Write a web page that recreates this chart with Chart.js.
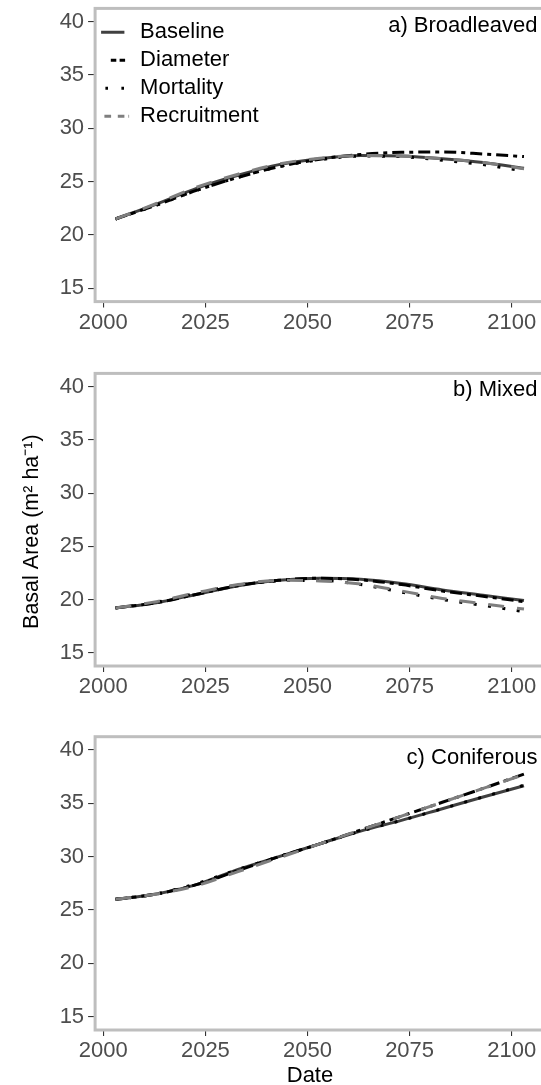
<!DOCTYPE html>
<html><head><meta charset="utf-8">
<script src="https://cdn.jsdelivr.net/npm/chart.js@4.4.0/dist/chart.umd.min.js"></script>
<style>
html,body{margin:0;padding:0;background:#fff;overflow:hidden;width:541px;height:1085px;position:relative;}
canvas{position:absolute;left:0;}
#date{position:absolute;left:250px;width:120px;text-align:center;top:1063px;font:22px "Liberation Sans",Arial,sans-serif;color:#000;line-height:24px;}
</style></head><body>
<canvas id="ca" width="560" height="345" style="top:0px;width:560px;height:345px"></canvas>
<canvas id="cb" width="560" height="360" style="top:345px;width:560px;height:360px"></canvas>
<canvas id="cc" width="560" height="380" style="top:705px;width:560px;height:380px"></canvas>
<div id="date">Date</div>
<script>
// ---- data ----
const years = [2003, 2013, 2023, 2033, 2043, 2053, 2063, 2073, 2083, 2093, 2103];
const xTicks = [2000, 2025, 2050, 2075, 2100];
const yTicks = [15, 20, 25, 30, 35, 40];
const seriesNames = ['Baseline', 'Diameter', 'Mortality', 'Recruitment'];
const panelLabels = ['a) Broadleaved', 'b) Mixed', 'c) Coniferous'];
const yAxisTitle = 'Basal Area (m\u00B2 ha\u207B\u00B9)    ';

const broadleavedBaseline    = [21.5, 22.9, 24.4, 25.6, 26.6, 27.15, 27.45, 27.4, 27.15, 26.8, 26.25];
const broadleavedDiameter    = [21.5, 22.8, 24.2, 25.4, 26.4, 27.1, 27.55, 27.75, 27.78, 27.6, 27.35];
const broadleavedMortality   = [21.5, 22.8, 24.2, 25.4, 26.4, 27.05, 27.4, 27.35, 27.0, 26.6, 26.0];
const broadleavedRecruitment = [21.5, 22.95, 24.5, 25.7, 26.65, 27.2, 27.45, 27.4, 27.15, 26.8, 26.2];

const mixedBaseline    = [19.2, 19.7, 20.5, 21.3, 21.8, 22.0, 21.9, 21.5, 20.9, 20.4, 19.9];
const mixedDiameter    = [19.2, 19.7, 20.5, 21.3, 21.8, 22.0, 21.85, 21.4, 20.8, 20.3, 19.8];
const mixedMortality   = [19.2, 19.75, 20.6, 21.35, 21.75, 21.8, 21.4, 20.7, 20.0, 19.45, 18.85];
const mixedRecruitment = [19.2, 19.8, 20.65, 21.4, 21.8, 21.75, 21.45, 20.8, 20.1, 19.6, 19.1];

const coniferousBaseline    = [26.0, 26.5, 27.4, 28.8, 30.0, 31.2, 32.4, 33.4, 34.5, 35.6, 36.65];
const coniferousDiameter    = [26.0, 26.5, 27.4, 28.7, 30.0, 31.2, 32.5, 33.8, 35.1, 36.4, 37.75];
const coniferousMortality   = [26.0, 26.5, 27.5, 28.8, 30.0, 31.2, 32.4, 33.4, 34.5, 35.6, 36.7];
const coniferousRecruitment = [26.0, 26.5, 27.3, 28.6, 29.9, 31.2, 32.5, 33.8, 35.1, 36.4, 37.7];

// ---- styles ----
const FONT = '"Liberation Sans", Arial, Helvetica, sans-serif';
Chart.defaults.font.family = FONT;
const seriesColors = ['#404040', '#000000', '#000000', '#7f7f7f'];
const seriesDash = [[], [12, 5, 4, 5], [3, 11.5], [16, 13]];
const seriesOrder = [3, 2, 1, 0];
const legendDash = [[23.3, 10], [5.5, 3.3, 5.5, 9.7], [2.6, 13.4, 2.6, 5.4], [6.7, 6.7, 6.6, 4.0]];
const legendDashOffset = [0, 14.3, 19.7, 20.7];

const framePlugin = {
  id: 'frame',
  beforeDatasetsDraw(chart) {
    const {ctx, chartArea: a} = chart;
    ctx.save();
    ctx.strokeStyle = '#bebebe';
    ctx.lineWidth = 3;
    ctx.strokeRect(a.left, a.top, a.right - a.left, a.bottom - a.top);
    ctx.restore();
  }
};
const panelLabelPlugin = {
  id: 'panelLabel',
  afterDatasetsDraw(chart, args, opts) {
    const {ctx, chartArea: a} = chart;
    ctx.save();
    ctx.font = '22px ' + FONT;
    ctx.fillStyle = '#000';
    ctx.textAlign = 'right';
    ctx.textBaseline = 'alphabetic';
    ctx.fillText(opts.text, a.right - 7, a.top + opts.dy);
    ctx.restore();
  }
};

function makeChart(id, seriesList, label, labelDy, padTop, xHeight, showLegend, showYTitle) {
  const datasets = seriesList.map((vals, i) => ({
    label: seriesNames[i],
    data: years.map((y, k) => ({x: y, y: vals[k]})),
    borderColor: seriesColors[i],
    backgroundColor: seriesColors[i],
    borderWidth: 3,
    borderDash: seriesDash[i],
    borderCapStyle: 'butt',
    pointRadius: 0,
    tension: 0.4,
    cubicInterpolationMode: 'monotone',
    order: seriesOrder[i],
    fill: false
  }));
  return new Chart(document.getElementById(id), {
    type: 'line',
    data: {datasets},
    plugins: [framePlugin, panelLabelPlugin],
    options: {
      responsive: false,
      animation: false,
      devicePixelRatio: 1,
      layout: {padding: {left: 0, top: padTop, right: 15.6, bottom: 0}},
      plugins: {
        tooltip: {enabled: false},
        panelLabel: {text: label, dy: labelDy},
        legend: {
          display: showLegend,
          position: 'chartArea',
          align: 'start',
          title: {display: true, text: '', font: {size: 1}, padding: {top: 12, bottom: 2}},
          labels: {
            usePointStyle: true,
            pointStyle: 'line',
            pointStyleWidth: 28,
            padding: 6,
            color: '#000',
            font: {size: 22, family: FONT},
            sort: (a, b) => a.datasetIndex - b.datasetIndex,
            generateLabels: (chart) => Chart.defaults.plugins.legend.labels.generateLabels(chart).map(it => Object.assign(it, {
              lineDash: legendDash[it.datasetIndex],
              lineDashOffset: legendDashOffset[it.datasetIndex],
              lineWidth: 3,
              lineCap: 'butt',
              pointStyle: 'line'
            }))
          }
        }
      },
      scales: {
        x: {
          type: 'linear',
          min: 1998, max: 2108,
          afterBuildTicks: s => { s.ticks = xTicks.map(v => ({value: v})); },
          afterFit: s => { s.height = xHeight; s.paddingLeft = 0; s.paddingRight = 0; },
          ticks: {color: '#4d4d4d', font: {size: 22}, padding: 2, maxRotation: 0, autoSkip: false, callback: v => String(v)},
          grid: {display: true, drawOnChartArea: false, drawTicks: true, tickLength: 6, color: '#333333', lineWidth: 1.1},
          border: {display: false}
        },
        y: {
          type: 'linear',
          min: 13.75, max: 41.25,
          afterBuildTicks: s => { s.ticks = yTicks.map(v => ({value: v})); },
          afterFit: s => { s.width = 95.1; s.paddingTop = 0; s.paddingBottom = 0; },
          ticks: {color: '#4d4d4d', font: {size: 22}, padding: 4, autoSkip: false, callback: v => String(v)},
          grid: {display: true, drawOnChartArea: false, drawTicks: true, tickLength: 7, color: '#333333', lineWidth: 1.1},
          border: {display: false},
          title: {display: showYTitle, text: yAxisTitle, color: '#000', font: {size: 21.5}, padding: {top: 19, bottom: 0}}
        }
      }
    }
  });
}

makeChart('ca', [broadleavedBaseline, broadleavedDiameter, broadleavedMortality, broadleavedRecruitment], panelLabels[0], 24, 8.4, 43.4, true, false);
makeChart('cb', [mixedBaseline, mixedDiameter, mixedMortality, mixedRecruitment], panelLabels[1], 23, 28.4, 39, false, true);
makeChart('cc', [coniferousBaseline, coniferousDiameter, coniferousMortality, coniferousRecruitment], panelLabels[2], 27, 31.7, 55, false, false);
</script>
</body></html>
